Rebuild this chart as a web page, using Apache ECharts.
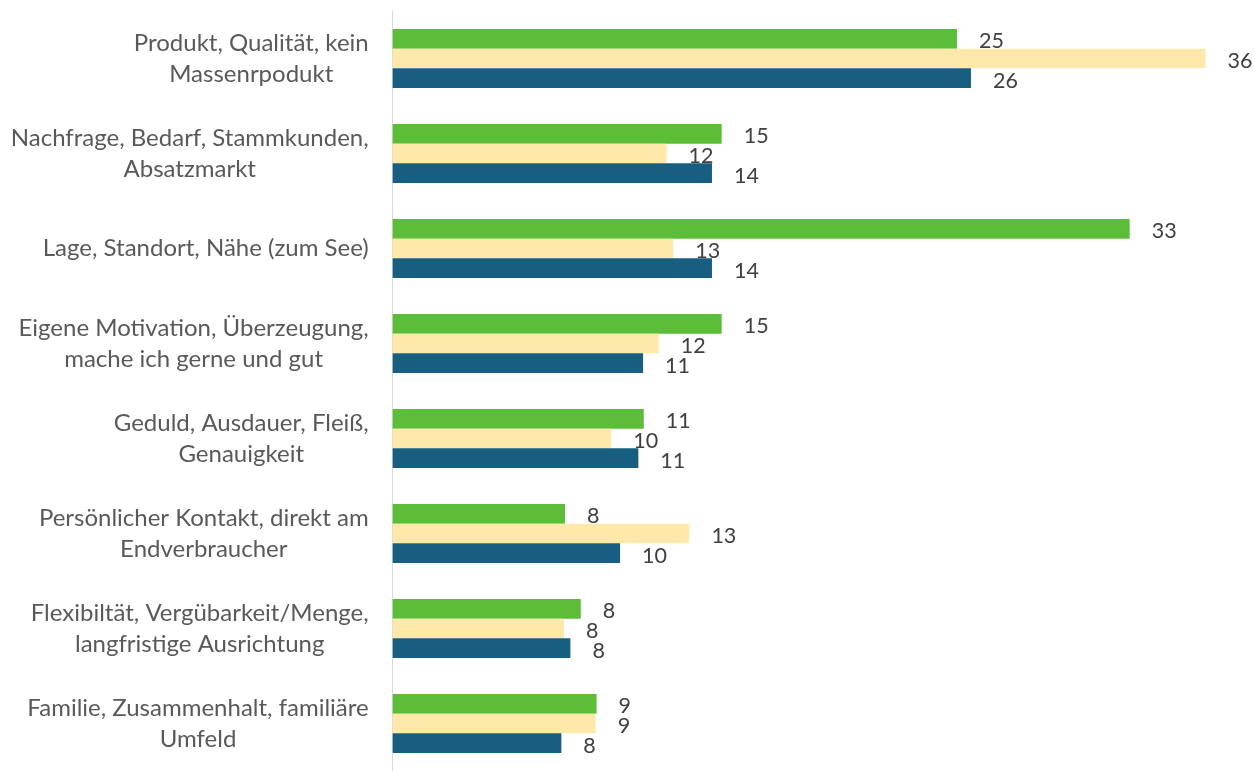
<!DOCTYPE html>
<html>
<head>
<meta charset="utf-8">
<script src="https://cdn.jsdelivr.net/npm/echarts@6/dist/echarts.min.js"></script>
<style>
  html, body { margin: 0; padding: 0; background: #fff; }
  #chart { width: 1255px; height: 771px; }
</style>
</head>
<body>
<div id="chart"></div>
<script>
// Kategorien (von oben nach unten)
const categories = [
  'Produkt, Qualität, kein\nMassenrpodukt',
  'Nachfrage, Bedarf, Stammkunden,\nAbsatzmarkt',
  'Lage, Standort, Nähe (zum See)',
  'Eigene Motivation, Überzeugung,\nmache ich gerne und gut',
  'Geduld, Ausdauer, Fleiß,\nGenauigkeit',
  'Persönlicher Kontakt, direkt am\nEndverbraucher',
  'Flexibiltät, Vergübarkeit/Menge,\nlangfristige Ausrichtung',
  'Familie, Zusammenhalt, familiäre\nUmfeld'
]

// Balkenlängen
const greenValues = [24.99, 14.57, 32.64, 14.57, 11.12, 7.63, 8.33, 9.03]
const yellowValues = [36.0, 12.13, 12.43, 11.78, 9.68, 13.14, 7.59, 8.99]
const blueValues = [25.61, 14.14, 14.14, 11.09, 10.88, 10.07, 7.87, 7.47]

// Beschriftungen wie im Bild
const greenLabels = [25, 15, 33, 15, 11, 8, 8, 9]
const yellowLabels = [36, 12, 13, 12, 10, 13, 8, 9]
const blueLabels = [26, 14, 14, 11, 11, 10, 8, 8]

const barSeries = (name, values, labels, color) => ({
  name: name,
  type: 'bar',
  barWidth: 19.6,
  barGap: '0%',
  itemStyle: { color: color },
  label: {
    show: true,
    position: 'right',
    distance: 22,
    offset: [0, 2.5],
    color: '#404040',
    fontFamily: 'Lato',
    fontSize: 21.5,
    formatter: (p) => String(labels[p.dataIndex])
  },
  data: values
})

const chart = echarts.init(document.getElementById('chart'))
chart.setOption({
  animation: false,
  backgroundColor: '#ffffff',
  grid: {
    left: 392.7,
    right: 4.3,
    top: 11,
    bottom: -4.3
  },
  xAxis: {
    type: 'value',
    min: 0,
    max: 38,
    show: false
  },
  yAxis: {
    type: 'category',
    inverse: true,
    data: categories,
    axisLine: { show: true, lineStyle: { color: '#D9D9D9', width: 1 } },
    axisTick: { show: false },
    axisLabel: {
      margin: 24,
      formatter: (v) => v.split('\n').map(s => '{c|' + s + '}').join('\n'),
      rich: {
        c: {
          align: 'center',
          fontFamily: 'Lato',
          fontSize: 24,
          lineHeight: 31,
          color: '#595959'
        }
      }
    }
  },
  series: [
    barSeries('A', greenValues, greenLabels, '#5CBE38'),
    barSeries('B', yellowValues, yellowLabels, '#FFE9AA'),
    barSeries('C', blueValues, blueLabels, '#175E80')
  ]
})
</script>
</body>
</html>
